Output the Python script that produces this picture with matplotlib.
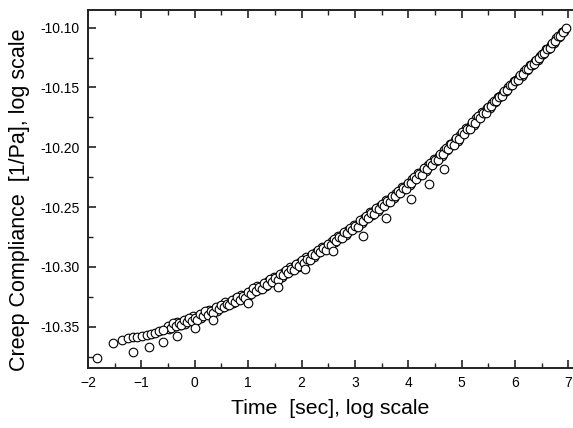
import matplotlib
matplotlib.use("Agg")
import matplotlib.pyplot as plt
from matplotlib.ticker import MultipleLocator, FormatStrFormatter

# ---- data (log time, log compliance) ----
left_x = [-1.527, -1.358, -1.246, -1.164, -1.078, -0.995, -0.902, -0.827,
          -0.746, -0.666, -0.591]
left_y = [-10.3634, -10.3611, -10.3597, -10.3589, -10.3584, -10.3575, -10.3569,
          -10.3561, -10.3550, -10.3536, -10.3528]

band_x = [-0.50, -0.45, -0.40, -0.35, -0.30, -0.25, -0.20, -0.15, -0.10, -0.05,
          0.00, 0.05, 0.10, 0.15, 0.20, 0.25, 0.30, 0.35, 0.40, 0.45,
          0.50, 0.55, 0.60, 0.65, 0.70, 0.75, 0.80, 0.85, 0.90, 0.95,
          1.00, 1.05, 1.10, 1.15, 1.20, 1.25, 1.30, 1.35, 1.40, 1.45,
          1.50, 1.55, 1.60, 1.65, 1.70, 1.75, 1.80, 1.85, 1.90, 1.95,
          2.00, 2.05, 2.10, 2.15, 2.20, 2.25, 2.30, 2.35, 2.40, 2.45,
          2.50, 2.55, 2.60, 2.65, 2.70, 2.75, 2.80, 2.85, 2.90, 2.95,
          3.00, 3.05, 3.10, 3.15, 3.20, 3.25, 3.30, 3.35, 3.40, 3.45,
          3.50, 3.55, 3.60, 3.65, 3.70, 3.75, 3.80, 3.85, 3.90, 3.95,
          4.00, 4.05, 4.10, 4.15, 4.20, 4.25, 4.30, 4.35, 4.40, 4.45,
          4.50, 4.55, 4.60, 4.65, 4.70, 4.75, 4.80, 4.85, 4.90, 4.95,
          5.00, 5.05, 5.10, 5.15, 5.20, 5.25, 5.30, 5.35, 5.40, 5.45,
          5.50, 5.55, 5.60, 5.65, 5.70, 5.75, 5.80, 5.85, 5.90, 5.95,
          6.00, 6.05, 6.10, 6.15, 6.20, 6.25, 6.30, 6.35, 6.40, 6.45,
          6.50, 6.55, 6.60, 6.65, 6.70, 6.75, 6.80, 6.85, 6.90, 6.95]
band_y = [-10.3490, -10.3508, -10.3470, -10.3498, -10.3470, -10.3488, -10.3445, -10.3463, -10.3425, -10.3453,
          -10.3425, -10.3441, -10.3396, -10.3412, -10.3372, -10.3398, -10.3368, -10.3384, -10.3339, -10.3355,
          -10.3315, -10.3339, -10.3308, -10.3322, -10.3276, -10.3290, -10.3249, -10.3273, -10.3242, -10.3256,
          -10.3210, -10.3223, -10.3180, -10.3203, -10.3170, -10.3183, -10.3135, -10.3148, -10.3105, -10.3128,
          -10.3095, -10.3107, -10.3058, -10.3070, -10.3026, -10.3048, -10.3014, -10.3026, -10.2977, -10.2989,
          -10.2945, -10.2966, -10.2931, -10.2942, -10.2892, -10.2903, -10.2858, -10.2879, -10.2844, -10.2855,
          -10.2805, -10.2814, -10.2768, -10.2787, -10.2751, -10.2760, -10.2709, -10.2718, -10.2672, -10.2691,
          -10.2655, -10.2663, -10.2611, -10.2619, -10.2572, -10.2590, -10.2553, -10.2561, -10.2509, -10.2517,
          -10.2470, -10.2487, -10.2449, -10.2456, -10.2403, -10.2410, -10.2362, -10.2379, -10.2341, -10.2348,
          -10.2295, -10.2300, -10.2250, -10.2265, -10.2225, -10.2230, -10.2175, -10.2180, -10.2130, -10.2145,
          -10.2105, -10.2109, -10.2052, -10.2056, -10.2004, -10.2018, -10.1976, -10.1980, -10.1923, -10.1927,
          -10.1875, -10.1888, -10.1845, -10.1848, -10.1790, -10.1793, -10.1740, -10.1753, -10.1710, -10.1713,
          -10.1662, -10.1653, -10.1615, -10.1610, -10.1578, -10.1568, -10.1527, -10.1518, -10.1480, -10.1475,
          -10.1442, -10.1434, -10.1394, -10.1386, -10.1349, -10.1345, -10.1314, -10.1305, -10.1266, -10.1257,
          -10.1220, -10.1213, -10.1179, -10.1167, -10.1125, -10.1113, -10.1073, -10.1066, -10.1032, -10.1000]

band2_x = [-0.475, -0.425, -0.375, -0.325, -0.275, -0.225, -0.175, -0.125, -0.075, -0.025,
           0.025, 0.075, 0.125, 0.175, 0.225, 0.275, 0.325, 0.375, 0.425, 0.475,
           0.525, 0.575, 0.625, 0.675, 0.725, 0.775, 0.825, 0.875, 0.925, 0.975,
           1.025, 1.075, 1.125, 1.175, 1.225, 1.275, 1.325, 1.375, 1.425, 1.475,
           1.525, 1.575, 1.625, 1.675, 1.725, 1.775, 1.825, 1.875, 1.925, 1.975,
           2.025, 2.075, 2.125, 2.175, 2.225, 2.275, 2.325, 2.375, 2.425, 2.475,
           2.525, 2.575, 2.625, 2.675, 2.725, 2.775, 2.825, 2.875, 2.925, 2.975,
           3.025, 3.075, 3.125, 3.175, 3.225, 3.275, 3.325, 3.375, 3.425, 3.475,
           3.525, 3.575, 3.625, 3.675, 3.725, 3.775, 3.825, 3.875, 3.925, 3.975,
           4.025, 4.075, 4.125, 4.175, 4.225, 4.275, 4.325, 4.375, 4.425, 4.475,
           4.525, 4.575, 4.625, 4.675, 4.725, 4.775, 4.825, 4.875, 4.925, 4.975,
           5.025, 5.075, 5.125, 5.175, 5.225, 5.275, 5.325, 5.375, 5.425, 5.475,
           5.525, 5.575, 5.625, 5.675, 5.725, 5.775, 5.825, 5.875, 5.925, 5.975,
           6.025, 6.075, 6.125, 6.175, 6.225, 6.275, 6.325, 6.375, 6.425, 6.475,
           6.525, 6.575, 6.625, 6.675, 6.725, 6.775, 6.825, 6.875, 6.925]
band2_y = [-10.3519, -10.3482, -10.3494, -10.3457, -10.3483, -10.3458, -10.3474, -10.3437, -10.3449, -10.3412,
           -10.3437, -10.3410, -10.3424, -10.3385, -10.3395, -10.3356, -10.3380, -10.3353, -10.3367, -10.3328,
           -10.3338, -10.3297, -10.3320, -10.3291, -10.3304, -10.3263, -10.3272, -10.3231, -10.3254, -10.3225,
           -10.3237, -10.3194, -10.3202, -10.3159, -10.3181, -10.3150, -10.3162, -10.3119, -10.3127, -10.3084,
           -10.3105, -10.3074, -10.3084, -10.3041, -10.3047, -10.3004, -10.3024, -10.2993, -10.3003, -10.2960,
           -10.2966, -10.2921, -10.2941, -10.2908, -10.2918, -10.2873, -10.2879, -10.2834, -10.2854, -10.2821,
           -10.2830, -10.2784, -10.2788, -10.2742, -10.2760, -10.2726, -10.2734, -10.2688, -10.2692, -10.2646,
           -10.2664, -10.2629, -10.2636, -10.2589, -10.2592, -10.2545, -10.2562, -10.2527, -10.2534, -10.2487,
           -10.2489, -10.2441, -10.2457, -10.2421, -10.2427, -10.2379, -10.2381, -10.2333, -10.2349, -10.2313,
           -10.2318, -10.2268, -10.2268, -10.2218, -10.2232, -10.2194, -10.2198, -10.2148, -10.2148, -10.2098,
           -10.2111, -10.2072, -10.2074, -10.2023, -10.2021, -10.1970, -10.1982, -10.1943, -10.1945, -10.1894,
           -10.1892, -10.1839, -10.1851, -10.1810, -10.1812, -10.1759, -10.1757, -10.1704, -10.1716, -10.1675,
           -10.1668, -10.1630, -10.1618, -10.1580, -10.1575, -10.1543, -10.1533, -10.1495, -10.1483, -10.1445,
           -10.1440, -10.1410, -10.1400, -10.1364, -10.1352, -10.1316, -10.1311, -10.1281, -10.1271, -10.1235,
           -10.1222, -10.1182, -10.1175, -10.1141, -10.1129, -10.1089, -10.1075, -10.1035, -10.1028]

low_x = [-1.837, -1.164, -0.853, -0.603, -0.341, 0.002, 0.344, 1.000, 1.560,
         2.060, 2.589, 3.151, 3.588, 4.056, 4.380, 4.666]
low_y = [-10.3764, -10.3709, -10.3667, -10.3625, -10.3578, -10.3508, -10.3440,
         -10.3300, -10.3166, -10.3018, -10.2865, -10.2742, -10.2594, -10.2435,
         -10.2309, -10.2181]

x_ticks = [-2, -1, 0, 1, 2, 3, 4, 5, 6, 7]
y_ticks = [-10.35, -10.30, -10.25, -10.20, -10.15, -10.10]

plt.rcParams['font.family'] = ['Liberation Sans', 'DejaVu Sans']

fig = plt.figure(figsize=(5.73, 4.28), dpi=100)
ax = fig.add_axes([88/573, 60/428, 485/573, 358.5/428])

mk = dict(linestyle='none', marker='o', ms=6.2, mfc='white', mec='black', mew=0.8)
ax.plot(band2_x, band2_y, **mk)
ax.plot(band_x, band_y, **mk)
ax.plot(left_x, left_y, **mk)
ax.plot(low_x, low_y, **mk)

ax.set_xlim(-2, 7.085)
ax.set_ylim(-10.3845, -10.0848)
ax.set_xticks(x_ticks)
ax.set_yticks(y_ticks)
ax.yaxis.set_major_formatter(FormatStrFormatter('%.2f'))
ax.xaxis.set_minor_locator(MultipleLocator(0.5))
ax.yaxis.set_minor_locator(MultipleLocator(0.025))

for s in ['left', 'bottom', 'top']:
    ax.spines[s].set_linewidth(1.4)
    ax.spines[s].set_color('#222222')
ax.spines['right'].set_visible(False)

ax.tick_params(which='both', direction='in', top=True, right=False,
               labelsize=10, pad=6, color='#222222')
ax.tick_params(which='major', length=6, width=1.2)
ax.tick_params(which='minor', length=3.5, width=1.0)

ax.set_xlabel('Time  [sec], log scale', fontsize=15.3, labelpad=6)
ax.set_ylabel('Creep Compliance  [1/Pa], log scale', fontsize=15.5, labelpad=6)
ax.yaxis.set_label_coords(-0.12, 0.47)

fig.savefig('out.png', dpi=100)
